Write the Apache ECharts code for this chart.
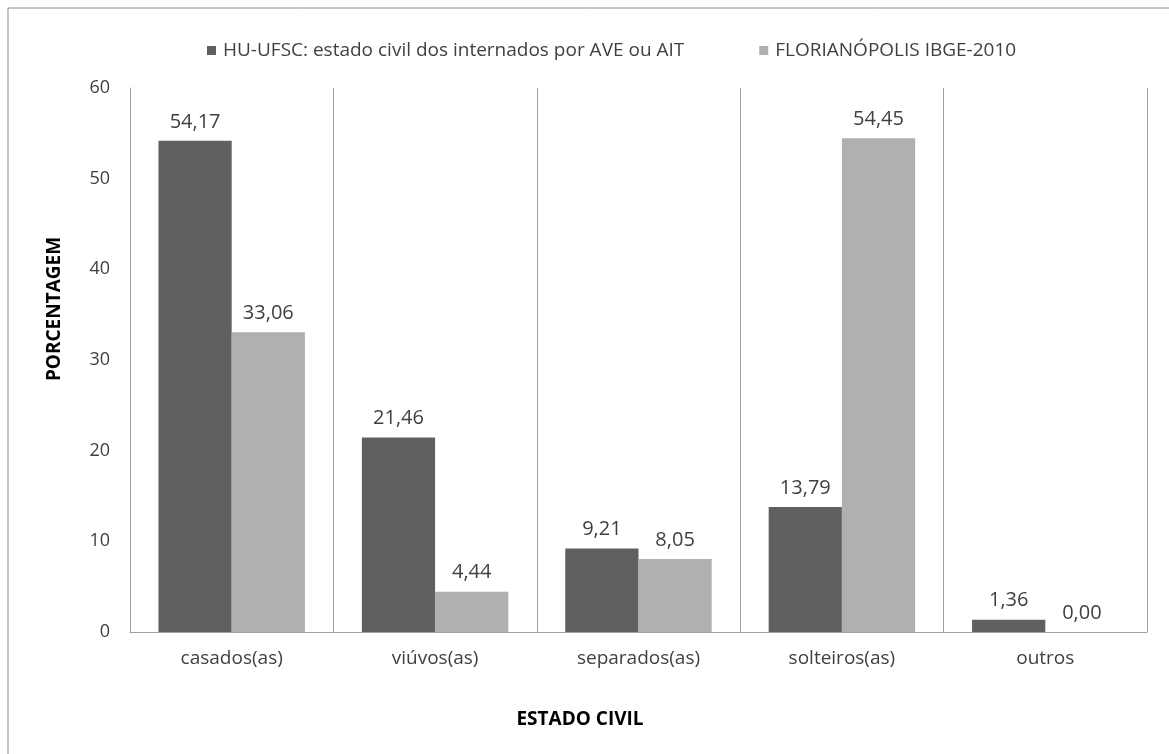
<!DOCTYPE html>
<html>
<head>
<meta charset="utf-8">
<script src="https://cdn.jsdelivr.net/npm/echarts@6/dist/echarts.min.js"></script>
<style>
html,body{margin:0;padding:0;background:#fff;}
#c{width:1169px;height:754px;}
</style>
</head>
<body>
<div id="c"></div>
<script>
const categories = ['casados(as)', 'viúvos(as)', 'separados(as)', 'solteiros(as)', 'outros'];
const seriesNames = ['HU-UFSC: estado civil dos internados por AVE ou AIT', 'FLORIANÓPOLIS IBGE-2010'];
const huUfsc = [54.17, 21.46, 9.21, 13.79, 1.36];
const floripa = [33.06, 4.44, 8.05, 54.45, 0.00];
const yTicks = [0, 10, 20, 30, 40, 50, 60];
const xTitle = 'ESTADO CIVIL';
const yTitle = 'PORCENTAGEM';

const FONT = '"Open Sans", "Noto Sans", sans-serif';
const TXT = '#404040';
const fmt = p => p.value.toFixed(2).replace('.', ',');

const chart = echarts.init(document.getElementById('c'));
chart.setOption({
  backgroundColor: '#fff',
  textStyle: { fontFamily: FONT, color: TXT },
  animation: false,
  graphic: [
    { type: 'line', shape: { x1: 8, y1: 8, x2: 1169, y2: 8 }, style: { stroke: '#8c8c8c', lineWidth: 1 } },
    { type: 'line', shape: { x1: 8, y1: 8, x2: 8, y2: 754 }, style: { stroke: '#8c8c8c', lineWidth: 1 } },
    { type: 'text', x: 580, y: 720,
      style: { text: xTitle, font: 'bold 19px "Open Sans", sans-serif', fill: '#000', align: 'center', verticalAlign: 'middle' } },
    { type: 'text', x: 55, y: 309, rotation: Math.PI / 2,
      style: { text: yTitle, font: 'bold 19px "Open Sans", sans-serif', fill: '#000', align: 'center', verticalAlign: 'middle' } }
  ],
  legend: {
    left: 202, top: 36,
    itemWidth: 9, itemHeight: 9, itemGap: 75,
    icon: 'rect',
    textStyle: { fontFamily: FONT, fontSize: 19, color: TXT, padding: [0, 0, 0, 2] },
    data: seriesNames
  },
  grid: { left: 130, right: 22, top: 88, bottom: 122 },
  xAxis: {
    type: 'category',
    data: categories,
    axisLine: { show: true, lineStyle: { color: '#a0a0a0', width: 1 } },
    axisTick: { show: false },
    axisLabel: { fontFamily: FONT, fontSize: 19, color: TXT, margin: 17 },
    splitLine: { show: true, interval: 0, lineStyle: { color: '#a0a0a0', width: 1 } }
  },
  yAxis: {
    type: 'value',
    min: yTicks[0], max: yTicks[yTicks.length - 1], interval: 10,
    axisLine: { show: true, lineStyle: { color: '#a0a0a0', width: 1 } },
    axisTick: { show: false },
    axisLabel: { fontFamily: FONT, fontSize: 18, color: TXT, margin: 20 },
    splitLine: { show: false }
  },
  series: [
    {
      name: seriesNames[0], type: 'bar', data: huUfsc,
      itemStyle: { color: '#606060' },
      barGap: '0%', barCategoryGap: '28%',
      label: { show: true, position: 'top', distance: 9, formatter: fmt, fontFamily: FONT, fontSize: 20, color: TXT }
    },
    {
      name: seriesNames[1], type: 'bar', data: floripa,
      itemStyle: { color: '#b0b0b0' },
      barGap: '0%', barCategoryGap: '28%',
      label: { show: true, position: 'top', distance: 9, formatter: fmt, fontFamily: FONT, fontSize: 20, color: TXT }
    }
  ]
});
</script>
</body>
</html>
